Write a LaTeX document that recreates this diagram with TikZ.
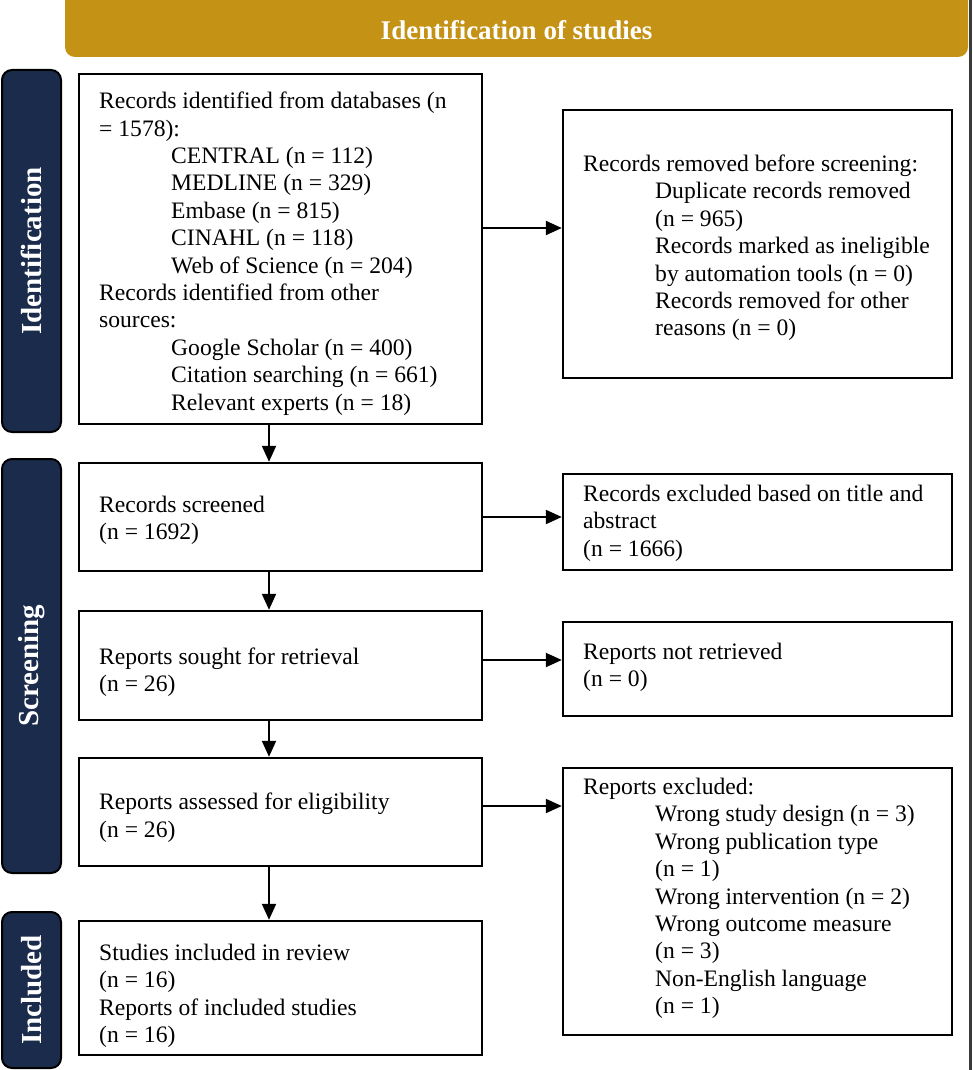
\documentclass[tikz,border=0pt]{standalone}
\usepackage{fontspec}
\setmainfont{Liberation Serif}
\usetikzlibrary{arrows.meta}
\definecolor{gold}{RGB}{196,146,20}
\definecolor{navy}{RGB}{27,43,75}
\definecolor{edgegray}{RGB}{58,58,58}
\tikzset{
 box/.style={draw=black, line width=2.4pt, rectangle, inner sep=0pt, fill=white},
 txt/.style={anchor=west, align=left, inner sep=0pt, font=\fontsize{23.6}{27.4}\selectfont, text=black, yshift=-3pt},
 side/.style={draw=black, line width=2pt, fill=navy, rounded corners=10pt, inner sep=0pt, minimum width=59pt},
 sidetext/.style={rotate=90, text=white, font=\fontsize{29}{32}\selectfont\bfseries, inner sep=0pt},
 arr/.style={line width=2pt, -{Triangle[length=16pt,width=14pt]}},
}
\newcommand{\ind}{\hspace*{72pt}}
\begin{document}
\begin{tikzpicture}[x=1pt,y=-1pt]
\useasboundingbox (0,0) rectangle (972,1070);
\fill[white] (0,0) rectangle (972,1070);
\fill[edgegray] (969,0) rectangle (972,1070);
% banner
\begin{scope}
\clip (0,0) rectangle (972,1070);
\node[fill=gold, rounded corners=10pt, minimum width=903pt, minimum height=72pt, inner sep=0pt] (ban) at (516.5,21) {};
\end{scope}
\node[text=white, font=\fontsize{27}{30}\selectfont\bfseries, inner sep=0pt] (bant) at (516.5,30) {Identification of studies};
% side bars
\node[side, minimum height=362pt] (sid1) at (31.5,251) {};
\node[sidetext] (sidt1) at (sid1.center) {Identification};
\node[side, minimum height=414pt] (sid2) at (31.5,666) {};
\node[sidetext] (sidt2) at (sid2.center) {Screening};
\node[side, minimum height=156pt] (sid3) at (31.5,990) {};
\node[sidetext] (sidt3) at (sid3.center) {Included};
% boxes
\node[box, minimum width=403pt, minimum height=350pt] (b1) at (280.5,249) {};
\node[box, minimum width=389pt, minimum height=268pt] (r1) at (757.5,244) {};
\node[box, minimum width=403pt, minimum height=108pt] (b2) at (280.5,517) {};
\node[box, minimum width=389pt, minimum height=96pt] (r2) at (757.5,522) {};
\node[box, minimum width=403pt, minimum height=109pt] (b3) at (280.5,665.5) {};
\node[box, minimum width=389pt, minimum height=94pt] (r3) at (757.5,669) {};
\node[box, minimum width=403pt, minimum height=108pt] (b4) at (280.5,812) {};
\node[box, minimum width=389pt, minimum height=267pt] (r4) at (757.5,901.5) {};
\node[box, minimum width=403pt, minimum height=134pt] (b5) at (280.5,988) {};
% texts
\node[txt] (t1) at (99,250.5) {Records identified from databases (n\\= 1578):\\
\ind CENTRAL (n = 112)\\\ind MEDLINE (n = 329)\\\ind Embase (n = 815)\\\ind CINAHL (n = 118)\\\ind Web of Science (n = 204)\\
Records identified from other\\sources:\\\ind Google Scholar (n = 400)\\\ind Citation searching (n = 661)\\\ind Relevant experts (n = 18)};
\node[txt] (tr1) at (583,245) {Records removed before screening:\\\ind Duplicate records removed\\\ind (n = 965)\\\ind Records marked as ineligible\\\ind by automation tools (n = 0)\\\ind Records removed for other\\\ind reasons (n = 0)};
\node[txt] (t2) at (99,517.5) {Records screened\\(n = 1692)};
\node[txt] (tr2) at (583,520) {Records excluded based on title and\\abstract\\(n = 1666)};
\node[txt] (t3) at (99,669) {Reports sought for retrieval\\(n = 26)};
\node[txt] (tr3) at (583,664.5) {Reports not retrieved\\(n = 0)};
\node[txt] (t4) at (99,814.5) {Reports assessed for eligibility\\(n = 26)};
\node[txt] (tr4) at (583,895.5) {Reports excluded:\\\ind Wrong study design (n = 3)\\\ind Wrong publication type\\\ind (n = 1)\\\ind Wrong intervention (n = 2)\\\ind Wrong outcome measure\\\ind (n = 3)\\\ind Non-English language\\\ind (n = 1)};
\node[txt] (t5) at (99,993) {Studies included in review\\(n = 16)\\Reports of included studies\\(n = 16)};
% connectors
\coordinate (vx) at (269,0);
\coordinate (h1) at (0,228);
\coordinate (h3) at (0,660);
\coordinate (h4) at (0,806);
\draw[arr] (vx |- b1.south) -- (vx |- b2.north);
\draw[arr] (vx |- b2.south) -- (vx |- b3.north);
\draw[arr] (vx |- b3.south) -- (vx |- b4.north);
\draw[arr] (vx |- b4.south) -- (vx |- b5.north);
\draw[arr] (b1.east |- h1) -- (r1.west |- h1);
\draw[arr] (b2.east) -- (b2.east -| r2.west);
\draw[arr] (b3.east |- h3) -- (r3.west |- h3);
\draw[arr] (b4.east |- h4) -- (r4.west |- h4);
\end{tikzpicture}
\end{document}
